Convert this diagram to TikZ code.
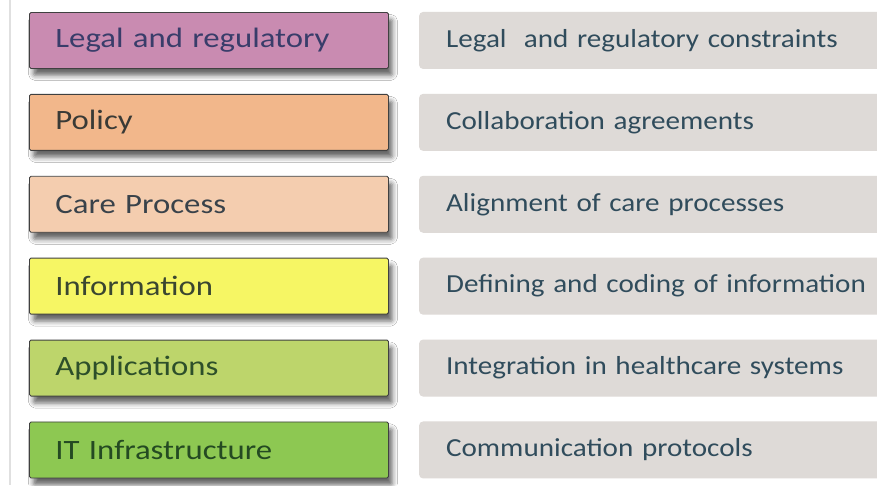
\documentclass[tikz,border=0pt]{standalone}
\usepackage{fontspec}
\setmainfont{Carlito}
\newfontfamily\layerfont[FakeStretch=1.17]{Carlito}
\newfontfamily\issuefont[FakeStretch=1.12]{Carlito}
\usepackage{xcolor}
\usetikzlibrary{positioning, shadows.blur}
\definecolor{legalpink}{RGB}{201,139,177}
\definecolor{policyorange}{RGB}{242,183,139}
\definecolor{carepeach}{RGB}{244,205,175}
\definecolor{infoyellow}{RGB}{246,246,100}
\definecolor{appgreen}{RGB}{189,213,107}
\definecolor{itgreen}{RGB}{141,200,82}
\definecolor{issuegray}{RGB}{222,218,215}
\definecolor{issuetext}{RGB}{48,76,92}

\begin{document}
\begin{tikzpicture}[
  x=1pt, y=1pt,
  node distance=25pt and 30pt,
  layerbox/.style={rectangle, rounded corners=1.5pt, draw=black!75, line width=0.9pt,
               minimum width=359pt, minimum height=56pt, text width=307pt, inner xsep=26pt,
               align=left, font=\layerfont\fontsize{28}{30}\selectfont,
               blur shadow={shadow xshift=4pt, shadow yshift=-7pt, shadow blur radius=5pt, shadow opacity=60}},
  issuebox/.style={rectangle, rounded corners=4pt, fill=issuegray,
               minimum height=57pt, text width=430pt, inner xsep=27pt,
               align=left, font=\issuefont\fontsize{26}{28}\selectfont, text=issuetext}
]
\useasboundingbox[fill=white] (0,0) rectangle (877,-485);
\draw[black!12, line width=1.2pt] (10,0) -- (10,-485);

% layers
\node[layerbox, fill=legalpink, text={rgb,255:red,57;green,61;blue,106}, anchor=north west] (legal) at (29,-12) {Legal and regulatory};
\node[layerbox, fill=policyorange, text={rgb,255:red,58;green,58;blue,54}, below=of legal] (policy) {Policy};
\node[layerbox, fill=carepeach, text={rgb,255:red,57;green,66;blue,74}, below=of policy] (care) {Care Process};
\node[layerbox, fill=infoyellow, text={rgb,255:red,58;green,70;blue,48}, below=of care] (info) {Information};
\node[layerbox, fill=appgreen, text={rgb,255:red,45;green,79;blue,42}, below=of info] (apps) {Applications};
\node[layerbox, fill=itgreen, text={rgb,255:red,36;green,74;blue,34}, below=of apps] (infra) {IT Infrastructure};

% issues
\node[issuebox, right=of legal.east, anchor=west] (constraints) {Legal\ \ and regulatory constraints};
\node[issuebox, right=of policy.east, anchor=west] (agreements) {Collaboration agreements};
\node[issuebox, right=of care.east, anchor=west] (alignment) {Alignment of care processes};
\node[issuebox, right=of info.east, anchor=west] (coding) {Defining and coding of information};
\node[issuebox, right=of apps.east, anchor=west] (integration) {Integration in healthcare systems};
\node[issuebox, right=of infra.east, anchor=west] (protocols) {Communication protocols};

\end{tikzpicture}
\end{document}
